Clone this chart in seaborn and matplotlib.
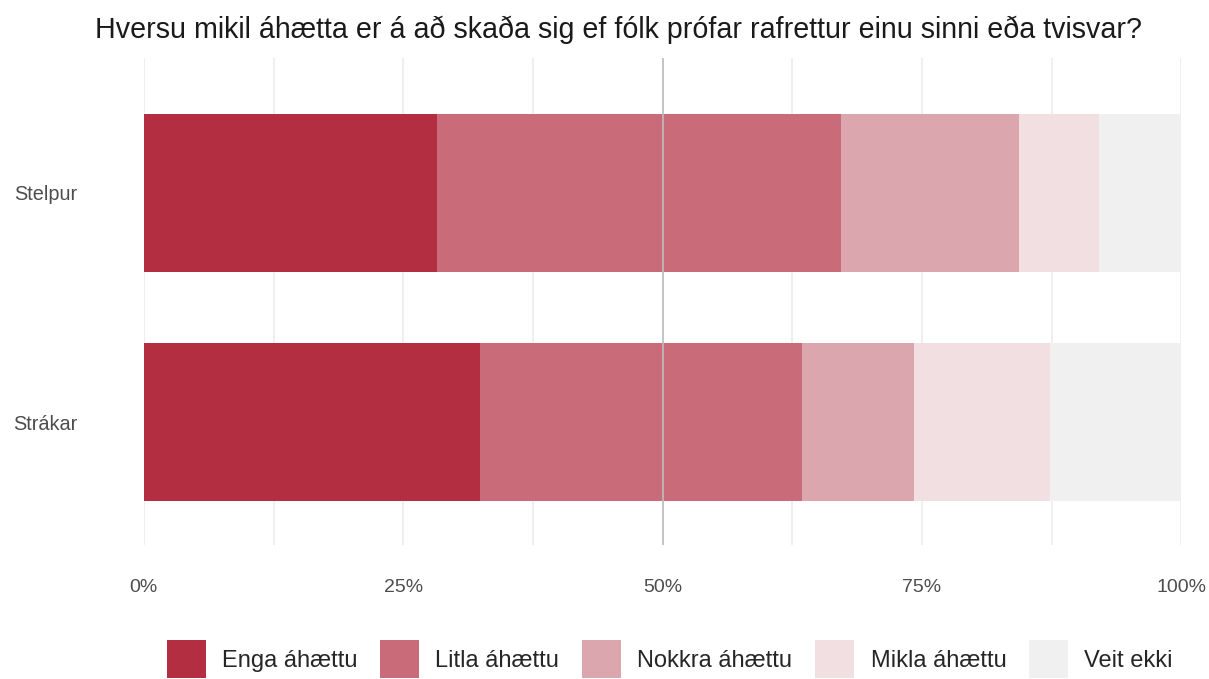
import matplotlib
matplotlib.use("Agg")
import matplotlib.pyplot as plt
import seaborn as sns
import numpy as np
import pandas as pd
from matplotlib.patches import Patch

# data (shares)
groups = ["Stelpur", "Strákar"]
answers = ["Enga áhættu", "Litla áhættu", "Nokkra áhættu", "Mikla áhættu", "Veit ekki"]
stelpur = [28.3, 38.9, 17.2, 7.7, 7.9]
strakar = [32.4, 31.0, 10.8, 13.2, 12.6]
colors = ["#B22E40", "#C96B78", "#DBA6AE", "#F2DFE2", "#F0F0F0"]

sns.set_style("white")
plt.rcParams["font.family"] = ["Liberation Sans", "DejaVu Sans"]

df = pd.DataFrame({"group": groups})
for i, a in enumerate(answers):
    df[a] = [stelpur[i] / 100, strakar[i] / 100]
cum = df[answers].cumsum(axis=1)
cum["group"] = df["group"]

fig = plt.figure(figsize=(12.09, 6.79), dpi=100)
ax = fig.add_axes([0.119, 0.197, 0.858, 0.718])

# grid
for v in np.arange(0, 1.01, 0.125):
    ax.axvline(v, color="#EBEBEB", lw=1.1, zorder=0)

# stacked bars: draw cumulative from the back
for a, c in reversed(list(zip(answers, colors))):
    sns.barplot(data=cum, x=a, y="group", orient="h", color=c, width=0.69,
                ax=ax, zorder=2, saturation=1, linewidth=0, edgecolor="none")

ax.axvline(0.5, color="#BDBDBD", lw=1.2, zorder=3)

ax.set_xlim(0, 1)
ax.set_ylim(1.537, -0.59)
ax.set_xticks([0, 0.25, 0.5, 0.75, 1.0])
ax.set_xticklabels(["0%", "25%", "50%", "75%", "100%"])
ax.set_xlabel("")
ax.set_ylabel("")
ax.tick_params(axis="x", length=0, pad=24, labelsize=14, labelcolor="#4D4D4D")
ax.tick_params(axis="y", length=0, pad=48, labelsize=14.3, labelcolor="#4D4D4D")
for s in ax.spines.values():
    s.set_visible(False)

fig.text(0.5112, 1 - 38 / 679,
         "Hversu mikil áhætta er á að skaða sig ef fólk prófar rafrettur einu sinni eða tvisvar?",
         ha="center", va="baseline", fontsize=20.6, color="#1A1A1A")

handles = [Patch(facecolor=c, edgecolor="none", label=a) for a, c in zip(answers, colors)]
fig.legend(handles=handles, loc="center", bbox_to_anchor=(0.554, 0.029), ncol=5,
           frameon=False, fontsize=17, handlelength=1.65, handleheight=2.1,
           handletextpad=0.68, columnspacing=0.98)

fig.savefig("out.png", dpi=100)
